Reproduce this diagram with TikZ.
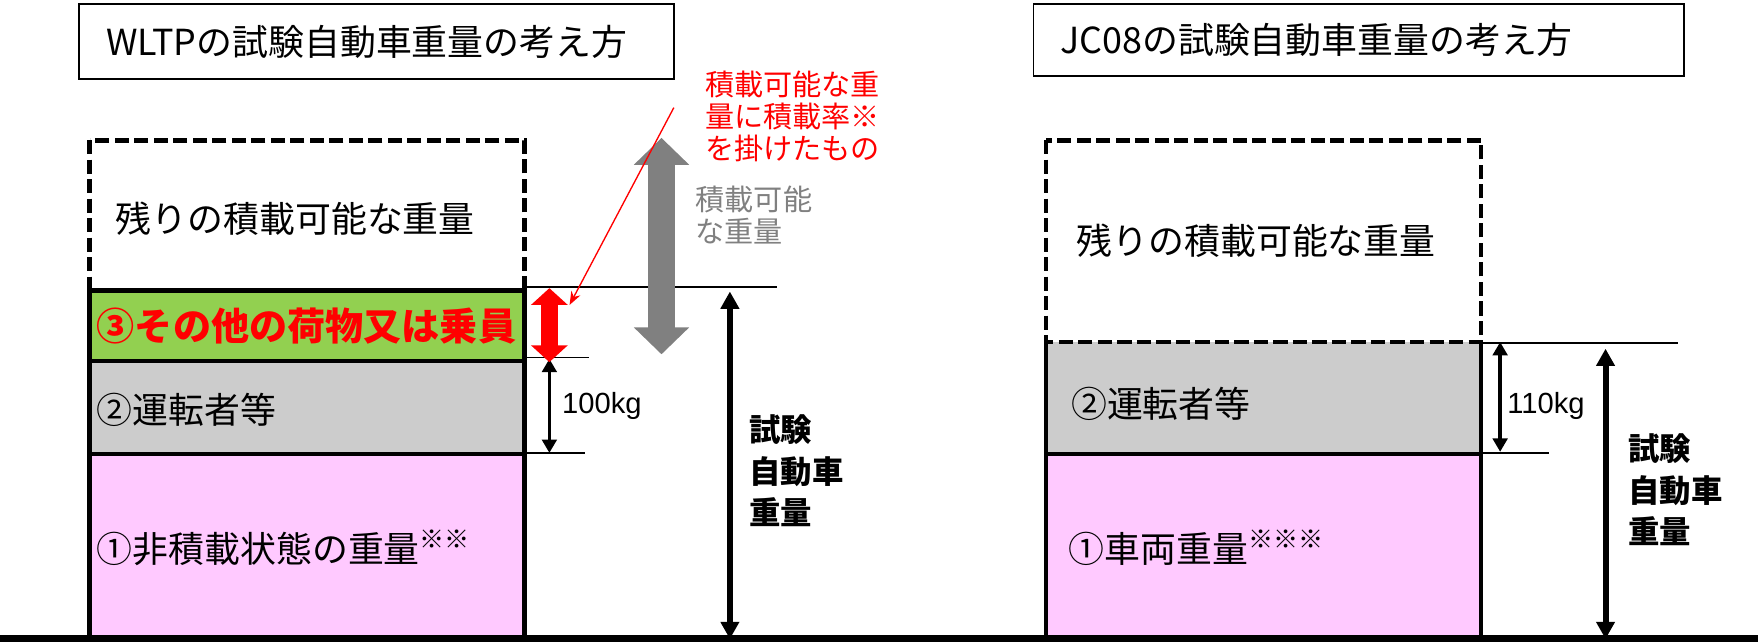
\documentclass[tikz,border=0pt]{standalone}
\usepackage{fontspec}
\setmainfont{Noto Sans CJK JP}
\newfontfamily\latinfont{Liberation Sans}
\usepackage{xcolor}
\usetikzlibrary{arrows.meta}
\definecolor{loadgreen}{HTML}{92D050}
\definecolor{drivergray}{HTML}{CCCCCC}
\definecolor{basepink}{HTML}{FFC9FF}
\definecolor{arrowgray}{HTML}{808080}

\begin{document}
\begin{tikzpicture}[x=0.5pt, y=-0.5pt,
  solidblock/.style={draw, line width=2.1pt},
  spareblock/.style={draw, line width=2.1pt, dash pattern=on 6.3pt off 2.4pt},
  guide/.style={line width=0.6pt},
  dimarrow/.style={line width=1.5pt, {Triangle[length=6pt,width=6.5pt]}-{Triangle[length=6pt,width=6.5pt]}},
  totalarrow/.style={line width=2.7pt, {Triangle[length=7.7pt,width=8pt]}-{Triangle[length=7.7pt,width=8pt]}},
  redarrow/.style={red, line width=7.7pt, {Triangle[length=7.5pt,width=16pt]}-{Triangle[length=7.5pt,width=16pt]}},
  bigarrow/.style={arrowgray, line width=12pt, {Triangle[length=12pt,width=24pt]}-{Triangle[length=12pt,width=24pt]}},
  blocktext/.style={anchor=base west, inner sep=0pt, font=\fontsize{16}{19}\selectfont},
  titlebox/.style={draw, line width=0.8pt, anchor=north west, inner xsep=12pt, font=\fontsize{16}{19}\selectfont},
  notetext/.style={inner sep=0pt, font=\fontsize{13}{14.4}\selectfont},
  sidetext/.style={anchor=west, inner sep=0pt, align=left, font=\fontsize{14}{18.5}\selectfont\bfseries},
  kgtext/.style={anchor=west, inner sep=0pt, font=\latinfont\fontsize{13}{15}\selectfont}
]
\useasboundingbox (0,0) rectangle (1568,573);

% titles
\node[titlebox, text width=241pt, minimum height=33.5pt] (wltptitle) at (70,3) {WLTPの試験自動車重量の考え方};
\node[titlebox, text width=266pt, minimum height=32pt] (jctitle) at (921,3) {JC08の試験自動車重量の考え方};

% WLTP stack
\draw[spareblock] (80,125) rectangle (468,259);
\draw[solidblock, fill=basepink] (80,405) rectangle (468,570);
\draw[solidblock, fill=drivergray] (80,322) rectangle (468,405);
\draw[solidblock, fill=loadgreen] (80,259) rectangle (468,322);
\node[blocktext] (wspare) at (103,207) {残りの積載可能な重量};
\node[blocktext, text=red, font=\fontsize{17}{20}\selectfont\bfseries] (wother) at (86,304) {③その他の荷物又は乗員};
\node[blocktext] (wdriver) at (86,378) {②運転者等};
\node[blocktext] (wbase) at (86,502) {①非積載状態の重量\textsuperscript{※※}};

\draw[guide] (468,256) -- (693,256);
\draw[guide] (468,319) -- (525,319);
\draw[guide] (468,404) -- (522,404);

\coordinate (othertop) at (490,257);
\coordinate (otherbot) at (490,323);
\coordinate (drvtop) at (490,320);
\coordinate (drvbot) at (490,404);
\coordinate (captop) at (590,123);
\coordinate (capbot) at (590,316);
\coordinate (wtotaltop) at (651,260);
\coordinate (wtotalbot) at (651,570);
\draw[dimarrow] (drvtop) -- (drvbot);
\draw[redarrow] (othertop) -- (otherbot);
\draw[bigarrow] (captop) -- (capbot);
\draw[totalarrow] (wtotaltop) -- (wtotalbot);

\node[kgtext] (wkg) at (501,362) {100kg};
\node[notetext, text=arrowgray, anchor=west, align=left] (capnote) at (620,192) {積載可能\\な重量};
\node[notetext, text=red, align=center] (ratenote) at (707,104) {積載可能な重\\量に積載率※\\を掛けたもの};
\coordinate (notefoot) at (601,96);
\coordinate (ratetip) at (508,272);
\draw[red, line width=0.6pt, -{Stealth[length=6pt,width=4.5pt]}] (notefoot) -- (ratetip);
\node[sidetext] (wtotal) at (668,420) {試験\\自動車\\重量};

% JC08 stack
\fill[drivergray] (933,305) rectangle (1321,405);
\draw[solidblock, fill=basepink] (933,405) rectangle (1321,570);
\draw[solidblock] (933,305) -- (933,405) -- (1321,405) -- (1321,305);
\draw[spareblock] (933,125) rectangle (1321,305);
\node[blocktext] (jspare) at (960,227) {残りの積載可能な重量};
\node[blocktext] (jdriver) at (955,372) {②運転者等};
\node[blocktext] (jbase) at (953,502) {①車両重量\textsuperscript{※※※}};

\draw[guide] (1321,306) -- (1497,306);
\draw[guide] (1321,404) -- (1382,404);

\coordinate (jdrvtop) at (1338,305);
\coordinate (jdrvbot) at (1338,403);
\coordinate (jtotaltop) at (1432,311);
\coordinate (jtotalbot) at (1432,570);
\draw[dimarrow] (jdrvtop) -- (jdrvbot);
\draw[totalarrow] (jtotaltop) -- (jtotalbot);
\node[kgtext] (jkg) at (1344,362) {110kg};
\node[sidetext] (jtotal) at (1452,437) {試験\\自動車\\重量};

% ground
\draw[line width=3pt] (0,569.5) -- (1568,569.5);
\end{tikzpicture}
\end{document}
